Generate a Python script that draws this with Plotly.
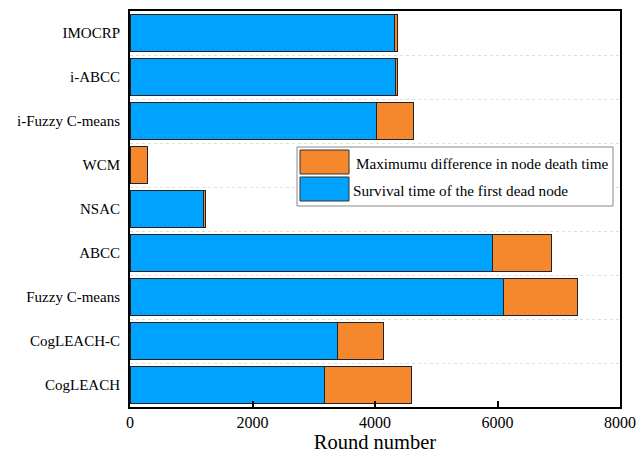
import plotly.graph_objects as go

categories = ["CogLEACH", "CogLEACH-C", "Fuzzy C-means", "ABCC", "NSAC", "WCM",
              "i-Fuzzy C-means", "i-ABCC", "IMOCRP"]
first_dead = [3173, 3386, 6103, 5923, 1192, 0, 4022, 4333, 4316]
max_diff = [1427, 757, 1202, 952, 40, 289, 605, 35, 50]
x_ticks = [0, 2000, 4000, 6000, 8000]

BLUE = "#00A2FF"
ORANGE = "#F5872C"
FONT = "Times New Roman, Liberation Serif, serif"
pos = list(range(len(categories)))

fig = go.Figure()
fig.add_trace(go.Bar(y=pos, x=first_dead, orientation="h", name="Survival time of the first dead node",
                     marker=dict(color=BLUE, line=dict(color="#222222", width=1)), width=0.82,
                     showlegend=False))
fig.add_trace(go.Bar(y=pos, x=max_diff, orientation="h", name="Maximumu difference in node death time",
                     marker=dict(color=ORANGE, line=dict(color="#222222", width=1)), width=0.82,
                     showlegend=False))

# custom legend with large swatches
legend_items = [("Maximumu difference in node death time", ORANGE),
                ("Survival time of the first dead node", BLUE)]
pw, ph = 490, 396
def px(x):
    return (x - 130) / pw
def py(y):
    return 1 - (y - 11) / ph
shapes = [dict(type="rect", xref="paper", yref="paper", x0=px(297), x1=px(613), y0=py(206), y1=py(147),
               line=dict(color="#888888", width=1), fillcolor="white", layer="above")]
annotations = []
for i, (txt, col) in enumerate(legend_items):
    top = 150 + i * 27
    shapes.append(dict(type="rect", xref="paper", yref="paper", x0=px(300), x1=px(349),
                       y0=py(top + 24), y1=py(top), fillcolor=col,
                       line=dict(color="#333333", width=1), layer="above"))
    annotations.append(dict(xref="paper", yref="paper", x=px(354) if i == 0 else px(351), y=py(top + 13),
                            text=txt, showarrow=False, xanchor="left", yanchor="middle",
                            font=dict(family=FONT, size=15.2, color="black")))

fig.update_layout(
    barmode="stack",
    width=638, height=453,
    margin=dict(l=130, r=18, t=11, b=46),
    plot_bgcolor="white", paper_bgcolor="white",
    font=dict(family=FONT, size=16, color="black"),
    shapes=shapes, annotations=annotations,
)
fig.update_xaxes(range=[0, 8000], tickvals=x_ticks, ticks="inside", ticklen=6, tickwidth=1.5,
                 tickcolor="black", showline=True, linecolor="black", linewidth=2, mirror=True,
                 showgrid=False, zeroline=False, automargin=False,
                 title=dict(text="Round number", font=dict(family=FONT, size=20.5), standoff=0),
                 tickfont=dict(family=FONT, size=16))
fig.update_yaxes(range=[-0.5, len(categories) - 0.5], tickvals=pos, ticktext=categories,
                 ticks="", showline=True, linecolor="black", linewidth=2, mirror=True,
                 showgrid=False, zeroline=False, ticklabelstandoff=5, automargin=False,
                 tickfont=dict(family=FONT, size=15),
                 minor=dict(tick0=0.5, dtick=1, showgrid=True, griddash="dot",
                            gridcolor="#DDDDDD", gridwidth=1, ticks=""))
fig.write_html("out.html")
